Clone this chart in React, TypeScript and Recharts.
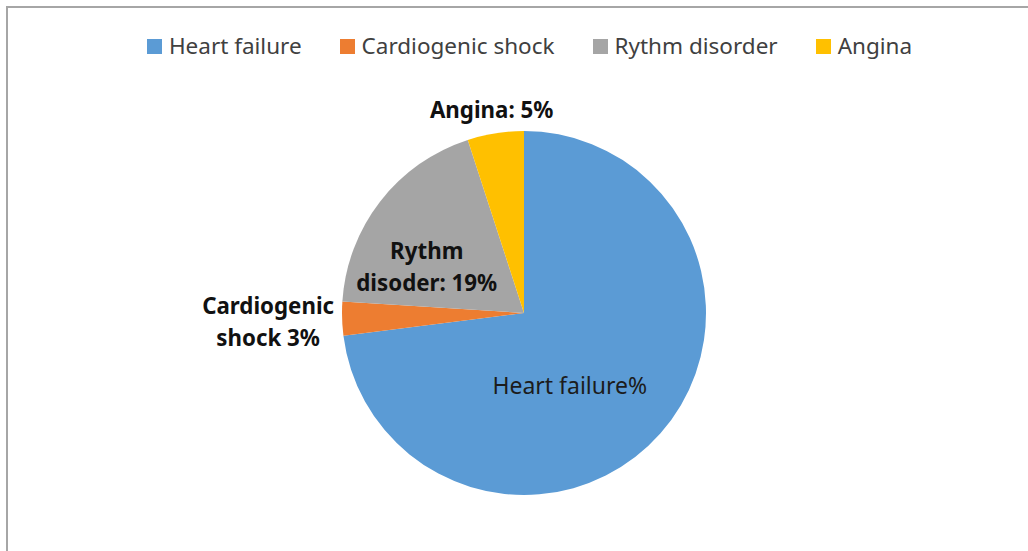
import { Cell, Legend, Pie, PieChart } from 'recharts';

const categories = ['Heart failure', 'Cardiogenic shock', 'Rythm disorder', 'Angina'];
const shares = [73, 3, 19, 5];
const labelLines = [
  ['Heart failure%'],
  ['Cardiogenic', 'shock 3%'],
  ['Rythm', 'disoder: 19%'],
  ['Angina: 5%'],
];

const COLORS = ['#5B9BD5', '#ED7D31', '#A5A5A5', '#FFC000'];

// where excel put each label: distance from centre, and shift from the slice mid angle
const LABEL_PLACE = [
  { r: 85, shift: -16, bold: false },
  { r: 256, shift: 0, bold: true },
  { r: 108, shift: 12, bold: true },
  { r: 207, shift: 0, bold: true },
];

const FONT = '"Noto Sans", sans-serif';
const RADIAN = Math.PI / 180;

const data = categories.map((name, i) => ({ name, value: shares[i] }));

type LabelArgs = {
  cx: number;
  cy: number;
  midAngle: number;
  index: number;
};

const renderLabel = ({ cx, cy, midAngle, index }: LabelArgs) => {
  const place = LABEL_PLACE[index];
  const angle = (midAngle + place.shift) * RADIAN;
  const x = cx + place.r * Math.cos(-angle);
  const y = cy + place.r * Math.sin(-angle);
  const lines = labelLines[index];
  const lineH = 32;
  const top = y - ((lines.length - 1) * lineH) / 2;
  return (
    <text
      x={x}
      y={top}
      fontFamily={FONT}
      fontSize={place.bold ? 22.3 : 23}
      fontWeight={place.bold ? 700 : 400}
      fill={place.bold ? '#111' : '#1c1c1c'}
      textAnchor="middle"
      dominantBaseline="central">
      {lines.map((line, i) => (
        <tspan key={i} x={x} dy={i === 0 ? 0 : lineH}>
          {line}
        </tspan>
      ))}
    </text>
  );
};

const renderLegend = () => (
  <div
    style={{
      display: 'flex',
      justifyContent: 'center',
      gap: 38,
      paddingLeft: 31,
      fontFamily: FONT,
      fontSize: 22.5,
      color: '#404040',
      lineHeight: '24px',
    }}>
    {categories.map((name, i) => (
      <div key={name} style={{ display: 'flex', alignItems: 'center' }}>
        <span
          style={{
            width: 15,
            height: 15,
            background: COLORS[i],
            marginRight: 7,
            display: 'inline-block',
          }}
        />
        {name}
      </div>
    ))}
  </div>
);

export default function App() {
  return (
    <div style={{ position: 'absolute', left: 0, top: 0, width: 1028, height: 551, background: '#fff' }}>
      <div
        style={{
          position: 'absolute',
          left: 6,
          top: 6,
          right: 0,
          bottom: 0,
          borderTop: '2px solid #a6a6a6',
          borderLeft: '2px solid #a6a6a6',
        }}
      />
      <PieChart width={1028} height={551} margin={{ top: 0, right: 0, bottom: 0, left: 0 }}>
        <Legend
          verticalAlign="top"
          content={renderLegend}
          wrapperStyle={{ top: 34 }}
        />
        <Pie
          data={data}
          dataKey="value"
          nameKey="name"
          cx={524}
          cy={289}
          outerRadius={182}
          startAngle={90}
          endAngle={-270}
          stroke="none"
          labelLine={false}
          label={renderLabel}
          isAnimationActive={false}>
          {data.map((_, index) => (
            <Cell key={`cell-${index}`} fill={COLORS[index]} />
          ))}
        </Pie>
      </PieChart>
    </div>
  );
}
